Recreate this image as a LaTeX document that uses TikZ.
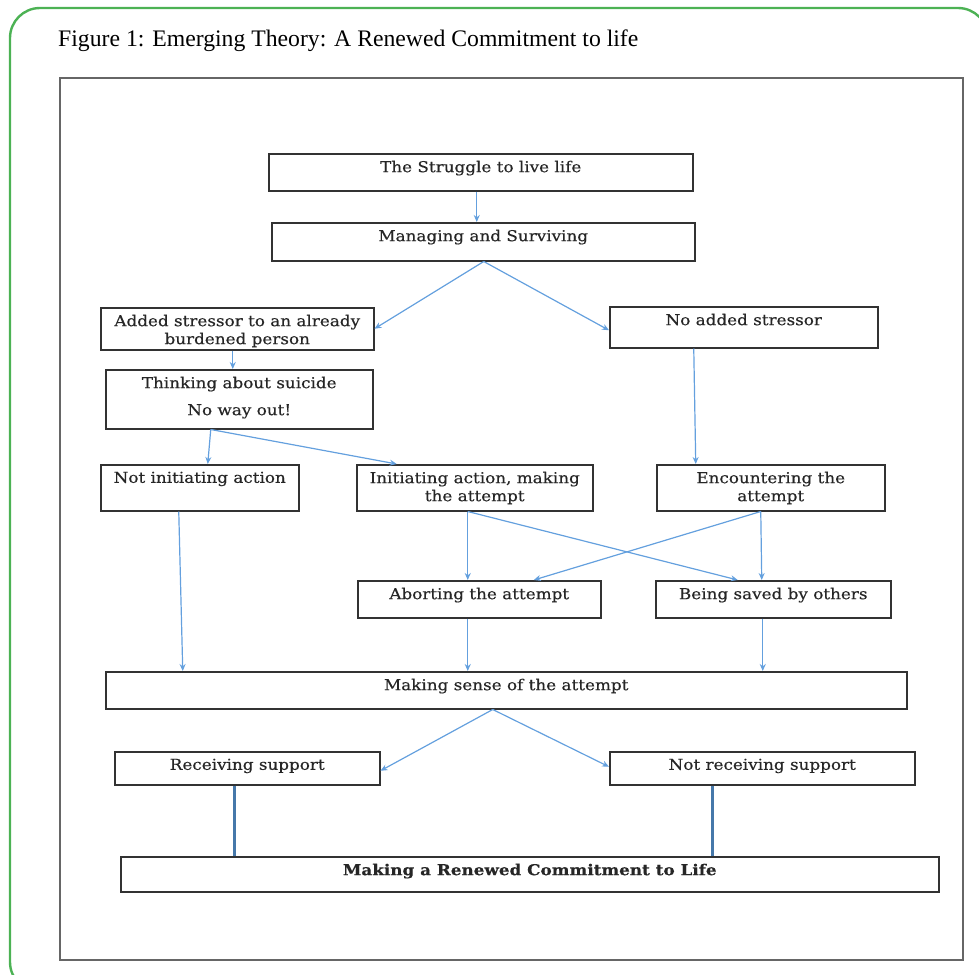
\documentclass[tikz,border=0pt]{standalone}
\usepackage{fontspec}
\setmainfont{DejaVu Serif}
\newfontfamily\boxfont[FakeStretch=1.12,FakeBold=0.35]{DejaVu Serif}
\newfontfamily\titlefont{Liberation Serif}
\usetikzlibrary{arrows.meta}
\definecolor{framegreen}{RGB}{76,178,84}
\definecolor{arrowblue}{RGB}{100,160,222}
\definecolor{thickblue}{RGB}{70,120,170}
\definecolor{boxline}{RGB}{50,50,50}
\tikzset{
  box/.style={draw=boxline, line width=1.5pt, inner sep=0pt, anchor=north west, fill=white},
  arr/.style={draw=arrowblue, line width=1.2pt, -{Stealth[length=7pt,width=6pt]}},
  thick connector/.style={draw=thickblue, line width=2.8pt},
  boxtext/.style={font=\boxfont\fontsize{15}{18}\selectfont, text=black!85},
}
\newcommand{\flowbox}[7][]{%
  \node[box,boxtext,#1] (#2) at (#3,#4)
    {\parbox[c][\dimexpr #6pt-#4pt\relax][t]{\dimexpr #5pt-#3pt\relax}{\centering\vspace*{7pt}#7\par}};}
\begin{document}
\begin{tikzpicture}[x=1pt,y=-1pt]
\useasboundingbox (0,0) rectangle (979,974);
\begin{scope}
\clip (0,0) rectangle (979,974);
\draw[framegreen, line width=2.4pt, rounded corners=30pt] (10,8) rectangle (988,992);
\end{scope}
\node[anchor=base west, inner sep=0pt, font=\titlefont\fontsize{23.7}{27}\selectfont] (title) at (58,47) {Figure 1: Emerging Theory: A Renewed Commitment to life};
\node[draw=black!60, line width=1.8pt, inner sep=0pt, anchor=north west, minimum width=903pt, minimum height=882pt] (frame) at (59,77) {};

\flowbox{S}{268}{153}{692}{190}{The Struggle to live life}
\flowbox{M}{271}{222}{694}{260}{Managing and Surviving}
\flowbox{A}{100}{307}{373}{349}{Added stressor to an already\\ burdened person}
\flowbox{N}{609}{306}{877}{347}{No added stressor}
\flowbox{T}{105}{369}{372}{428}{Thinking about suicide\par\vspace{9pt}No way out!}
\flowbox{NI}{100}{464}{298}{510}{Not initiating action}
\flowbox{IA}{356}{464}{592}{510}{Initiating action, making\\ the attempt}
\flowbox{E}{656}{464}{884}{510}{Encountering the\\ attempt}
\flowbox{AB}{357}{580}{600}{617}{Aborting the attempt}
\flowbox{BS}{655}{580}{890}{617}{Being saved by others}
\flowbox{MS}{105}{671}{906}{708}{Making sense of the attempt}
\flowbox{RS}{114}{751}{379}{784}{Receiving support}
\flowbox{NR}{609}{751}{914}{784}{Not receiving support}
\flowbox{MR}{120}{856}{938}{891}{\textbf{Making a Renewed Commitment to Life}}

\draw[arr] ([xshift=-4]S.south) -- ([xshift=-6.5]M.north);
\draw[arr] ([xshift=0.5]M.south) -- (A.east);
\draw[arr] ([xshift=0.5]M.south) -- ([yshift=-3]N.west);
\draw[arr] ([xshift=-4.5]A.south) -- ([xshift=-6.5]T.north);
\draw[arr] ([xshift=-28.5]T.south) -- ([xshift=8]NI.north);
\draw[arr] ([xshift=-28.5]T.south) -- ([xshift=-78]IA.north);
\draw[arr] ([xshift=-50]N.south) -- ([xshift=-75]E.north);
\draw[arr] ([xshift=-21]NI.south) -- ([xshift=-323.5]MS.north);
\draw[arr] ([xshift=-7]IA.south) -- ([xshift=-11.5]AB.north);
\draw[arr] ([xshift=-7]IA.south) -- ([xshift=-35.5]BS.north);
\draw[arr] ([xshift=-10]E.south) -- ([xshift=54.5]AB.north);
\draw[arr] ([xshift=-10]E.south) -- ([xshift=-11.5]BS.north);
\draw[arr] ([xshift=-11.5]AB.south) -- ([xshift=-38.5]MS.north);
\draw[arr] ([xshift=-10.5]BS.south) -- ([xshift=256.5]MS.north);
\draw[arr] ([xshift=-13.5]MS.south) -- ([yshift=-2.5]RS.east);
\draw[arr] ([xshift=-13.5]MS.south) -- ([yshift=1.5]NR.west);
\draw[thick connector] ([xshift=-12.5]RS.south) -- ([xshift=-295]MR.north);
\draw[thick connector] ([xshift=-49.5]NR.south) -- ([xshift=183]MR.north);
\end{tikzpicture}
\end{document}
